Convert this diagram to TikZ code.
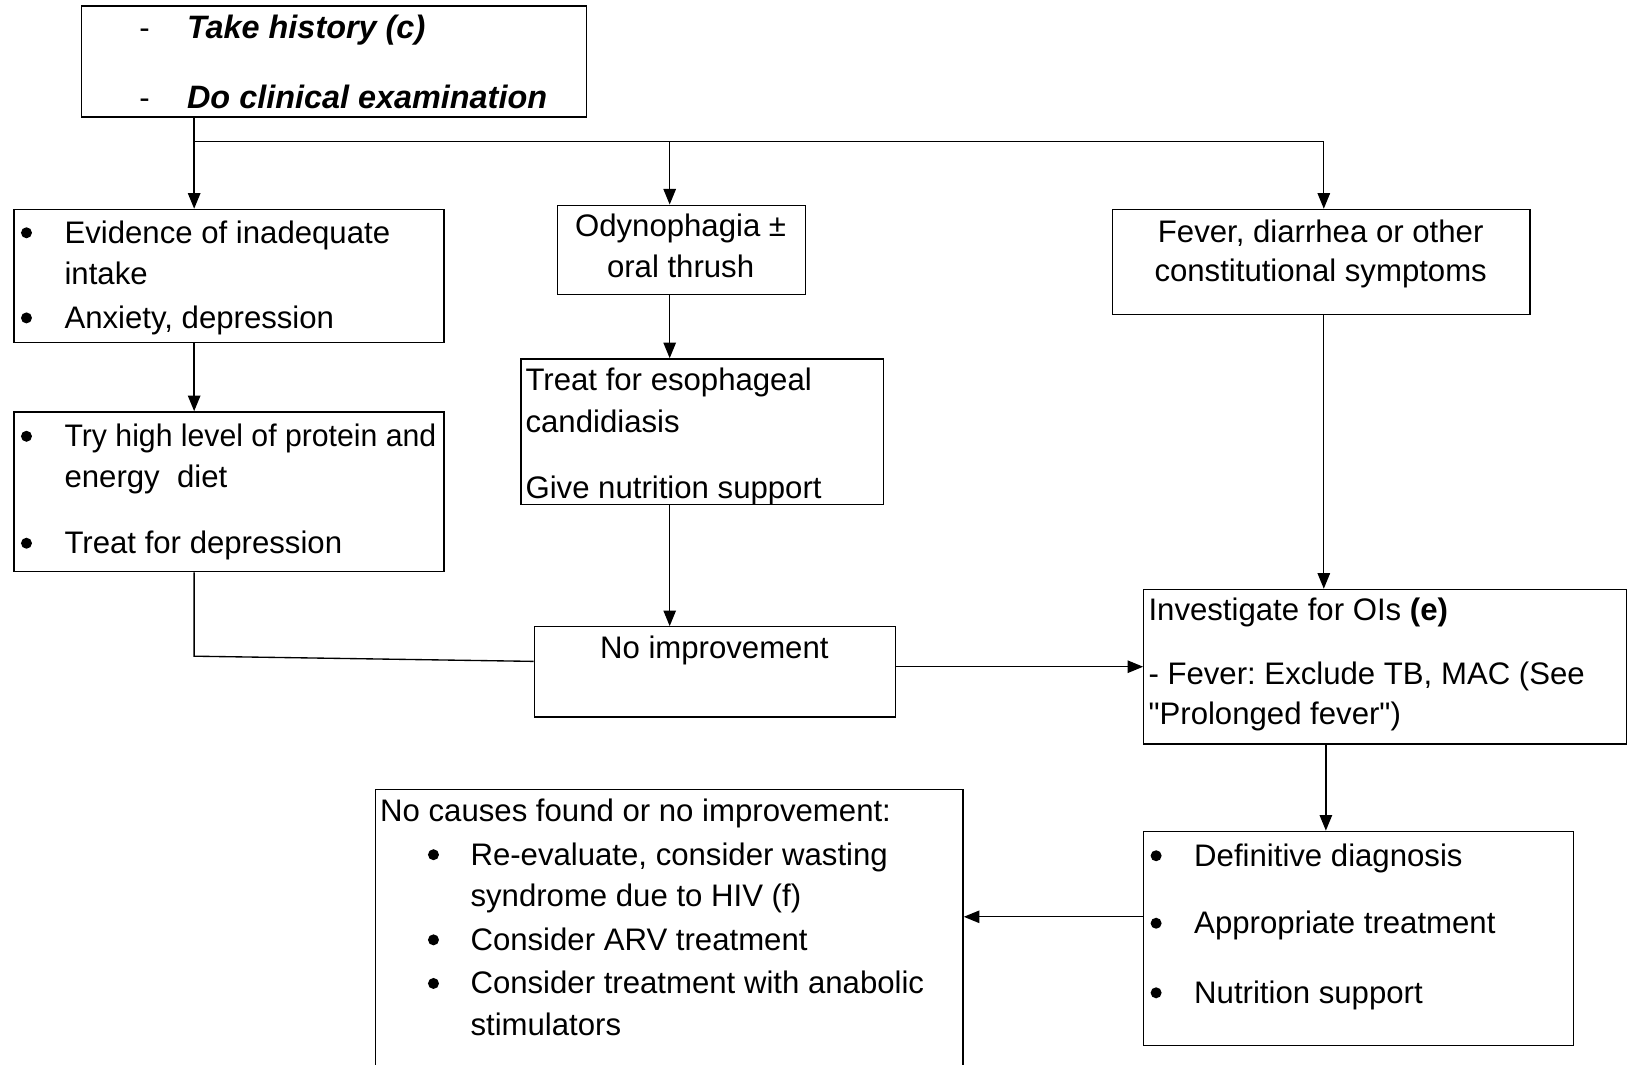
\documentclass[tikz,border=0pt]{standalone}
\usepackage{fontspec}
\setmainfont{Liberation Sans}[Ligatures=TeXOff]
\usetikzlibrary{arrows.meta,calc}
% round list bullet, centred 10pt above the baseline
\newcommand{\bdot}{\tikz[baseline=0pt]\fill (0pt,10pt) circle[radius=5.3pt];}
% bullet followed by a fixed tab to the item text
\newcommand{\bul}{\makebox[42pt][l]{\bdot}}
\newcommand{\nb}{\makebox[41pt][l]{\bdot}}
\begin{document}
\begin{tikzpicture}[x=1pt,y=-1pt,
  box/.style={draw, line width=1.3pt, inner sep=0pt, anchor=north west},
  txt/.style={inner sep=0pt, anchor=north west, align=left,
              font=\fontsize{30}{40}\selectfont\frenchspacing},
  ctxt/.style={txt, anchor=north, align=center},
  link/.style={line width=1.3pt},
  arr/.style={link, -{Triangle[length=15pt,width=12pt]}}]

\useasboundingbox (0,0) rectangle (1568,1025);
\clip (0,0) rectangle (1568,1025);

% ---- boxes ----
\node[box, minimum width=486pt, minimum height=107pt] (top)   at (78,5) {};
\node[box, minimum width=414pt, minimum height=128pt] (ev)    at (13,201) {};
\node[box, minimum width=239pt, minimum height=86pt]  (ody)   at (536,197) {};
\node[box, minimum width=402pt, minimum height=101pt] (fev)   at (1071,201) {};
\node[box, minimum width=414pt, minimum height=154pt] (try)   at (13,396) {};
\node[box, minimum width=349pt, minimum height=140pt] (treat) at (501,345) {};
\node[box, minimum width=348pt, minimum height=87pt]  (noimp) at (514,603) {};
\node[box, minimum width=465pt, minimum height=149pt] (inv)   at (1101,567) {};
\node[box, minimum width=414pt, minimum height=206pt] (def)   at (1101,800) {};
\node[box, minimum width=566pt, minimum height=290pt] (nc)    at (361,760) {};

% ---- texts ----
\node[txt, font=\fontsize{31.2}{40}\selectfont\frenchspacing] (topT) at (134,9)
  {\strut\makebox[46pt][l]{\fontsize{30}{40}\selectfont -}\textbf{\textit{Take history (c)}}\\[27pt]
   \strut\makebox[46pt][l]{\fontsize{30}{40}\selectfont -}\textbf{\textit{Do clinical examination}}};

\node[txt] (evT) at (20,206)
  {\strut\bul Evidence of inadequate\\
   \strut\hspace*{42pt}intake\\[2pt]
   \strut\bul Anxiety, depression};

\node[ctxt] (odyT) at (655.5,200)
  {\strut Odynophagia ±\\[-1pt]
   \strut oral thrush};

\node[ctxt] (fevT) at (1272,205)
  {\strut Fever, diarrhea or other\\[-2pt]
   \strut constitutional symptoms};

\node[txt] (tryT) at (20,402)
  {\strut\bul \scalebox{0.97}[1]{Try high level of protein and}\\[-1pt]
   \strut\hspace*{42pt}energy\ \ diet\\[24pt]
   \strut\bul Treat for depression};

\begin{scope}
  \clip (treat.north west) rectangle (treat.south east);
  \node[txt] (treatT) at (506,348)
    {\strut Treat for esophageal\\
     \strut candidiasis\\[24pt]
     \strut Give nutrition support};
\end{scope}

\node[ctxt] (noimpT) at (688,606) {\strut No improvement};

\node[txt] (invT) at (1106,569)
  {\strut Investigate for OIs \textbf{(e)}\\[22pt]
   \strut - Fever: Exclude TB, MAC (See\\[-1pt]
   \strut "Prolonged fever")};

\node[txt] (defT) at (1108,806)
  {\strut\bul Definitive diagnosis\\[25pt]
   \strut\bul Appropriate treatment\\[27pt]
   \strut\bul Nutrition support};

\node[txt] (ncT) at (366,763)
  {\strut No causes found or no improvement:\\[2pt]
   \strut\hspace*{46pt}\nb Re-evaluate, consider wasting\\
   \strut\hspace*{87pt}syndrome due to HIV (f)\\[2pt]
   \strut\hspace*{46pt}\nb Consider ARV treatment\\[2pt]
   \strut\hspace*{46pt}\nb Consider treatment with anabolic\\
   \strut\hspace*{87pt}stimulators};

% ---- connectors ----
\coordinate (jL) at (187,136);
\coordinate (jM) at (645,136);
\coordinate (jR) at (1275,136);
\coordinate (xd) at (1277,760);
\coordinate (bend) at (187,632);
\coordinate (nl) at (514,637);
\coordinate (ya) at (1000,883);

\draw[link] (top.south -| jL) -- (jL) -- (jR);
\draw[arr] (jL) -- (jL |- ev.north);
\draw[arr] (jM) -- (jM |- ody.north);
\draw[arr] (jR) -- (jR |- fev.north);
\draw[arr] (ev.south -| jL) -- (jL |- try.north);
\draw[arr] (ody.south -| jM) -- (jM |- treat.north);
\draw[arr] (treat.south -| jM) -- (jM |- noimp.north);
\draw[link] (try.south -| jL) -- (bend) -- (nl);
\draw[arr] (noimp.east |- inv.west) -- (inv.west);
\draw[arr] (fev.south -| jR) -- (jR |- inv.north);
\draw[arr] (inv.south -| xd) -- (def.north -| xd);
\draw[arr] (def.west |- ya) -- (nc.east |- ya);
\end{tikzpicture}
\end{document}
